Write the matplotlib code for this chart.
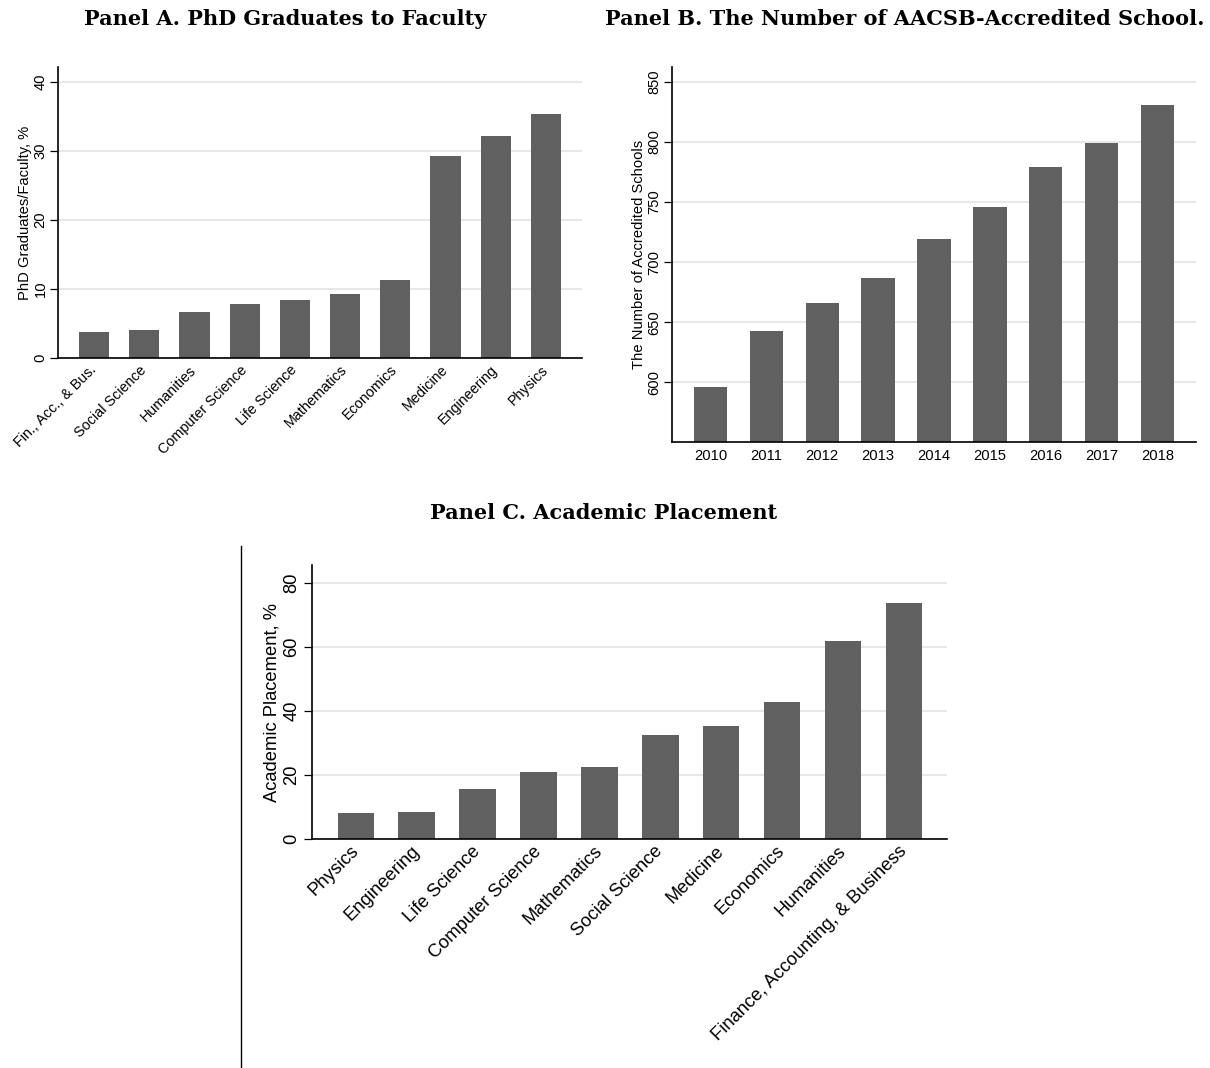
import matplotlib
matplotlib.use("Agg")
import matplotlib.pyplot as plt
from matplotlib.lines import Line2D
import numpy as np

# Panel A: PhD graduates relative to faculty, by field (%)
fields_a = ["Fin., Acc., & Bus.", "Social Science", "Humanities", "Computer Science",
            "Life Science", "Mathematics", "Economics", "Medicine", "Engineering", "Physics"]
ratio_a = [3.76, 4.1, 6.7, 7.85, 8.43, 9.35, 11.33, 29.25, 32.24, 35.37]

# Panel B: number of AACSB-accredited schools by year
years_b = ["2010", "2011", "2012", "2013", "2014", "2015", "2016", "2017", "2018"]
schools_b = [596, 643, 666, 687, 719, 746, 779, 799, 831]

# Panel C: academic placement by field (%)
fields_c = ["Physics", "Engineering", "Life Science", "Computer Science", "Mathematics",
            "Social Science", "Medicine", "Economics", "Humanities",
            "Finance, Accounting, & Business"]
placement_c = [8.08, 8.55, 15.6, 20.8, 22.6, 32.6, 35.2, 42.7, 61.8, 73.7]

BAR = "#606060"
GRID = "#e8e8e8"
W, H = 1210, 1068

plt.rcParams["font.family"] = ["Liberation Sans", "DejaVu Sans"]
fig = plt.figure(figsize=(W / 100, H / 100), dpi=100)


def add_axes_px(left, top, right, bottom):
    return fig.add_axes([left / W, 1 - bottom / H, (right - left) / W, (bottom - top) / H])


def style(ax, yticks, fs, labelpad_tick):
    ax.set_yticks(yticks)
    ax.set_yticklabels([str(t) for t in yticks], rotation=90, va="center", fontsize=fs)
    ax.tick_params(axis="y", length=6, width=0.9, direction="out", pad=labelpad_tick)
    ax.tick_params(axis="x", length=0)
    for s in ("top", "right"):
        ax.spines[s].set_visible(False)
    for s in ("left", "bottom"):
        ax.spines[s].set_linewidth(1.2)
        ax.spines[s].set_color("black")
    ax.yaxis.grid(True, color=GRID, linewidth=1.5)
    ax.set_axisbelow(True)


title_font = dict(family="DejaVu Serif", fontweight="bold", fontsize=15)

# Panel A
axA = add_axes_px(58, 67, 582, 358)
xa = np.arange(len(fields_a))
axA.bar(xa, ratio_a, width=0.6, color=BAR)
axA.set_xlim(-0.72, 9.72)
axA.set_ylim(0, 42.2)
style(axA, [0, 10, 20, 30, 40], 10.6, 1.5)
axA.set_xticks(xa)
axA.set_xticklabels(fields_a, rotation=45, ha="right", va="center",
                    rotation_mode="anchor", fontsize=10.4)
axA.tick_params(axis="x", pad=7)
axA.set_ylabel("PhD Graduates/Faculty, %", fontsize=10.6, labelpad=1)
fig.text(285.5 / W, 1 - 19 / H, "Panel A. PhD Graduates to Faculty", ha="center", va="center",
         **title_font)

# Panel B
axB = add_axes_px(672, 67, 1196, 442)
xb = np.arange(len(years_b))
axB.bar(xb, schools_b, width=0.6, color=BAR)
axB.set_xlim(-0.69, 8.69)
axB.set_ylim(550.3, 862.2)
style(axB, [600, 650, 700, 750, 800, 850], 10.6, 1.5)
axB.set_xticks(xb)
axB.set_xticklabels(years_b, fontsize=10.6)
axB.tick_params(axis="x", pad=5)
axB.set_ylabel("The Number of Accredited Schools", fontsize=10.6, labelpad=1)
fig.text(905 / W, 1 - 19 / H, "Panel B. The Number of AACSB-Accredited School.",
         ha="center", va="center", **title_font)

# Panel C
axC = add_axes_px(312, 565, 947, 839)
xc = np.arange(len(fields_c))
axC.bar(xc, placement_c, width=0.6, color=BAR)
axC.set_xlim(-0.72, 9.71)
axC.set_ylim(0, 85.5)
style(axC, [0, 20, 40, 60, 80], 13.2, 2.5)
axC.set_xticks(xc)
axC.set_xticklabels(fields_c, rotation=45, ha="right", va="center",
                    rotation_mode="anchor", fontsize=13.2)
axC.tick_params(axis="x", pad=7)
axC.set_ylabel("Academic Placement, %", fontsize=13.2, labelpad=2)
fig.text(604 / W, 1 - 513 / H, "Panel C. Academic Placement", ha="center", va="center",
         **title_font)

# Left rule beside panel C
fig.add_artist(Line2D([241 / W, 241 / W], [0, 1 - 546 / H], color="black", linewidth=1.0,
                      transform=fig.transFigure))

fig.savefig("out.png", dpi=100, facecolor="white")
